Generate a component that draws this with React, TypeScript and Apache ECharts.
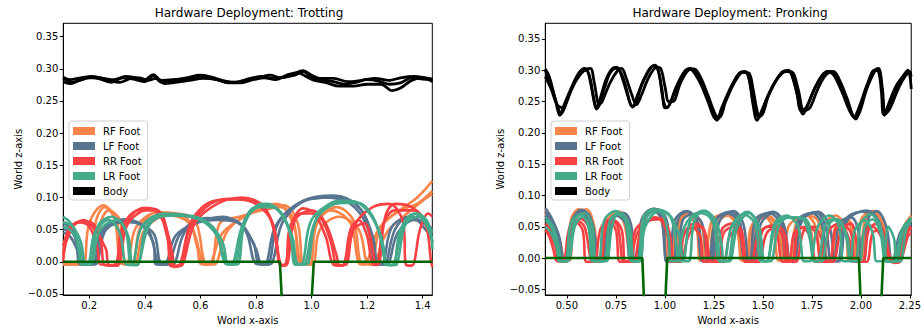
import React, { useEffect, useRef } from "react";
import * as echarts from "echarts";

const FONT = "DejaVu Sans";

const zTicks = [-0.05, 0, 0.05, 0.1, 0.15, 0.2, 0.25, 0.3, 0.35];
const trotXTicks = [0.2, 0.4, 0.6, 0.8, 1.0, 1.2, 1.4];
const pronkXTicks = [0.5, 0.75, 1.0, 1.25, 1.5, 1.75, 2.0, 2.25];
const legendNames = ["RF Foot", "LF Foot", "RR Foot", "LR Foot", "Body"];
const legendColors = ["#F9844A", "#577590", "#F94144", "#43AA8B", "#000000"];

// ---------- Trotting ----------
const trotRF_A = [[0.106,-0.003],[0.18,-0.004],[0.185,0],[0.2,0.06],[0.25,0.088],[0.29,0.07],[0.31,0],[0.33,-0.004],[0.34,0],[0.37,0.055],[0.45,0.077],[0.55,0.068],[0.59,0.02],[0.6,-0.003],[0.63,-0.004],[0.64,0],[0.68,0.045],[0.78,0.075],[0.87,0.09],[0.93,0.07],[0.96,-0.002],[0.98,-0.004],[0.99,0],[1.01,0.055],[1.07,0.08],[1.14,0.06],[1.17,-0.002],[1.19,-0.004],[1.2,0],[1.24,0.05],[1.3,0.075],[1.38,0.1],[1.435,0.126]];
const trotRF_B = [[0.106,-0.004],[0.22,-0.003],[0.225,0],[0.24,0.06],[0.27,0.08],[0.31,0.065],[0.33,-0.002],[0.36,-0.004],[0.37,0],[0.4,0.05],[0.5,0.075],[0.58,0.065],[0.62,-0.003],[0.65,-0.004],[0.66,0],[0.7,0.05],[0.8,0.08],[0.9,0.088],[0.95,0.06],[0.97,-0.003],[1.0,-0.004],[1.01,0],[1.03,0.05],[1.1,0.07],[1.17,0.05],[1.2,-0.002],[1.22,-0.004],[1.23,0],[1.27,0.045],[1.33,0.07],[1.4,0.095],[1.435,0.105]];
const trotRF_C = [[0.106,-0.004],[0.2,-0.004],[0.21,0],[0.225,0.065],[0.255,0.085],[0.3,0.06],[0.32,-0.003],[0.35,-0.004],[0.36,0],[0.39,0.06],[0.47,0.073],[0.56,0.06],[0.6,0.01],[0.61,-0.004],[0.635,-0.004],[0.645,0],[0.67,0.06],[0.74,0.07],[0.82,0.08],[0.89,0.085],[0.94,0.05],[0.955,-0.003],[0.99,-0.004],[1.0,0],[1.02,0.06],[1.09,0.085],[1.15,0.065],[1.18,-0.003],[1.21,-0.004],[1.22,0],[1.25,0.055],[1.32,0.08],[1.38,0.09],[1.435,0.11]];
const trotLF_A = [[0.106,0.045],[0.13,0.04],[0.155,0.02],[0.165,-0.003],[0.2,-0.004],[0.21,0],[0.24,0.045],[0.33,0.066],[0.41,0.05],[0.44,0.01],[0.45,-0.004],[0.48,-0.004],[0.49,0],[0.53,0.045],[0.62,0.068],[0.72,0.065],[0.79,0.03],[0.81,-0.003],[0.84,-0.004],[0.85,0],[0.88,0.06],[0.97,0.095],[1.08,0.103],[1.17,0.085],[1.22,0.04],[1.24,-0.003],[1.27,-0.004],[1.28,0],[1.31,0.045],[1.37,0.065],[1.42,0.055],[1.435,0.045]];
const trotLF_B = [[0.106,0.06],[0.14,0.05],[0.17,0.015],[0.18,-0.003],[0.22,-0.004],[0.23,0],[0.26,0.05],[0.34,0.062],[0.43,0.045],[0.46,-0.003],[0.5,-0.004],[0.51,0],[0.55,0.05],[0.66,0.065],[0.74,0.06],[0.8,0.02],[0.82,-0.004],[0.845,-0.004],[0.86,0],[0.9,0.065],[1.0,0.098],[1.1,0.1],[1.18,0.08],[1.22,0.03],[1.23,-0.003],[1.26,-0.004],[1.27,0],[1.3,0.05],[1.35,0.07],[1.41,0.06],[1.435,0.05]];
const trotLF_C = [[0.106,0.05],[0.14,0.045],[0.16,0.02],[0.17,-0.004],[0.21,-0.004],[0.22,0],[0.25,0.05],[0.31,0.065],[0.38,0.06],[0.43,0.03],[0.44,-0.004],[0.47,-0.004],[0.48,0],[0.51,0.04],[0.58,0.06],[0.68,0.07],[0.76,0.05],[0.8,-0.003],[0.83,-0.004],[0.84,0],[0.87,0.055],[0.95,0.09],[1.05,0.1],[1.14,0.09],[1.2,0.055],[1.23,-0.003],[1.25,-0.004],[1.26,0],[1.29,0.055],[1.36,0.07],[1.41,0.05],[1.435,0.035]];
const trotRR_A = [[0.106,0.0],[0.12,0.035],[0.16,0.062],[0.2,0.055],[0.23,0.02],[0.24,-0.004],[0.28,-0.005],[0.3,0],[0.33,0.06],[0.4,0.084],[0.46,0.075],[0.49,0.02],[0.5,-0.006],[0.53,-0.006],[0.54,0],[0.58,0.06],[0.66,0.09],[0.75,0.1],[0.83,0.085],[0.87,0.04],[0.885,-0.004],[0.9,-0.005],[0.91,0],[0.93,0.06],[0.97,0.083],[1.03,0.07],[1.07,0.03],[1.09,-0.005],[1.11,-0.006],[1.12,0],[1.14,0.05],[1.17,0.065],[1.2,0.04],[1.22,-0.004],[1.235,-0.005],[1.245,0],[1.265,0.07],[1.3,0.09],[1.36,0.085],[1.41,0.06],[1.43,0.0],[1.435,-0.008]];
const trotRR_B = [[0.106,0.025],[0.13,0.05],[0.18,0.065],[0.22,0.05],[0.26,0.02],[0.27,-0.005],[0.3,-0.006],[0.31,0],[0.34,0.06],[0.42,0.082],[0.47,0.06],[0.5,0.01],[0.505,-0.008],[0.52,-0.007],[0.53,0],[0.57,0.065],[0.65,0.095],[0.73,0.097],[0.8,0.09],[0.86,0.06],[0.89,-0.005],[0.905,-0.006],[0.915,0],[0.94,0.065],[1.0,0.08],[1.05,0.06],[1.09,0.01],[1.1,-0.005],[1.12,-0.005],[1.13,0],[1.15,0.05],[1.19,0.06],[1.22,0.02],[1.23,-0.004],[1.24,0],[1.26,0.06],[1.3,0.08],[1.37,0.08],[1.42,0.05],[1.435,0.03]];
const trotRR_C = [[0.106,0.01],[0.12,0.045],[0.15,0.06],[0.2,0.062],[0.24,0.035],[0.255,-0.005],[0.29,-0.006],[0.3,0],[0.32,0.055],[0.38,0.08],[0.44,0.08],[0.48,0.04],[0.495,-0.007],[0.52,-0.007],[0.535,0],[0.56,0.05],[0.62,0.085],[0.7,0.098],[0.78,0.095],[0.85,0.07],[0.88,0.01],[0.89,-0.005],[0.9,-0.005],[0.91,0],[0.92,0.05],[0.96,0.075],[1.0,0.075],[1.05,0.04],[1.08,-0.005],[1.11,-0.006],[1.12,0],[1.16,0.06],[1.22,0.085],[1.28,0.09],[1.33,0.06],[1.34,-0.005],[1.36,-0.006],[1.37,0],[1.39,0.05],[1.42,0.075],[1.435,0.07]];
const trotLR_A = [[0.106,0.07],[0.13,0.062],[0.15,0.045],[0.165,0.01],[0.17,-0.003],[0.19,-0.004],[0.2,0],[0.22,0.045],[0.27,0.065],[0.31,0.045],[0.33,-0.003],[0.35,-0.005],[0.36,0],[0.39,0.055],[0.47,0.075],[0.57,0.07],[0.65,0.05],[0.7,-0.003],[0.73,-0.004],[0.74,0],[0.76,0.06],[0.82,0.09],[0.88,0.08],[0.93,0.04],[0.95,-0.003],[0.98,-0.004],[0.99,0],[1.02,0.07],[1.1,0.095],[1.18,0.09],[1.24,0.05],[1.27,-0.004],[1.29,-0.005],[1.3,0],[1.33,0.055],[1.38,0.075],[1.42,0.06],[1.435,0.02]];
const trotLR_B = [[0.106,0.062],[0.14,0.055],[0.17,0.03],[0.185,-0.003],[0.2,-0.004],[0.21,0],[0.24,0.05],[0.3,0.065],[0.34,0.04],[0.355,-0.005],[0.37,-0.005],[0.38,0],[0.42,0.06],[0.5,0.072],[0.6,0.065],[0.66,0.04],[0.69,-0.003],[0.71,-0.004],[0.72,0],[0.75,0.055],[0.8,0.085],[0.86,0.085],[0.92,0.05],[0.94,-0.004],[0.96,-0.004],[0.97,0],[1.0,0.065],[1.08,0.09],[1.16,0.092],[1.22,0.07],[1.26,0.02],[1.27,-0.005],[1.3,-0.005],[1.31,0],[1.34,0.06],[1.39,0.07],[1.43,0.04],[1.435,0.03]];
const trotLR_C = [[0.106,0.055],[0.13,0.05],[0.155,0.035],[0.17,0.01],[0.175,-0.004],[0.2,-0.004],[0.21,0],[0.23,0.055],[0.28,0.07],[0.33,0.05],[0.35,-0.004],[0.37,-0.005],[0.38,0],[0.41,0.06],[0.48,0.072],[0.55,0.072],[0.63,0.06],[0.68,0.03],[0.7,-0.004],[0.72,-0.004],[0.73,0],[0.76,0.065],[0.84,0.09],[0.9,0.07],[0.935,0.02],[0.94,-0.004],[0.97,-0.004],[0.98,0],[1.01,0.06],[1.06,0.085],[1.14,0.095],[1.2,0.08],[1.25,0.04],[1.27,-0.004],[1.29,-0.005],[1.3,0],[1.32,0.05],[1.37,0.075],[1.41,0.06],[1.435,0.045]];
const trotBody1 = [[0.106,0.285],[0.14,0.279],[0.17,0.283],[0.2,0.287],[0.24,0.284],[0.28,0.279],[0.32,0.286],[0.36,0.284],[0.4,0.28],[0.43,0.289],[0.46,0.279],[0.5,0.281],[0.55,0.283],[0.6,0.288],[0.65,0.284],[0.7,0.279],[0.74,0.28],[0.78,0.285],[0.82,0.288],[0.86,0.285],[0.9,0.287],[0.94,0.29],[0.97,0.296],[1.0,0.286],[1.04,0.283],[1.08,0.28],[1.12,0.276],[1.16,0.279],[1.2,0.283],[1.24,0.281],[1.28,0.276],[1.32,0.278],[1.36,0.286],[1.4,0.284],[1.435,0.283]];
const trotBody2 = [[0.106,0.28],[0.13,0.277],[0.16,0.281],[0.2,0.286],[0.24,0.286],[0.28,0.281],[0.31,0.279],[0.35,0.285],[0.38,0.286],[0.41,0.282],[0.44,0.285],[0.47,0.277],[0.51,0.279],[0.56,0.282],[0.61,0.285],[0.66,0.283],[0.7,0.278],[0.74,0.278],[0.79,0.283],[0.83,0.286],[0.87,0.283],[0.91,0.29],[0.95,0.294],[0.98,0.288],[1.01,0.282],[1.05,0.279],[1.1,0.273],[1.15,0.273],[1.2,0.276],[1.25,0.276],[1.29,0.266],[1.32,0.27],[1.36,0.282],[1.4,0.286],[1.435,0.28]];
const trotBody3 = [[0.106,0.287],[0.13,0.283],[0.17,0.286],[0.21,0.288],[0.25,0.285],[0.29,0.283],[0.33,0.288],[0.37,0.286],[0.4,0.283],[0.43,0.291],[0.46,0.282],[0.5,0.283],[0.55,0.286],[0.6,0.29],[0.64,0.287],[0.69,0.281],[0.73,0.279],[0.77,0.283],[0.81,0.286],[0.85,0.29],[0.89,0.286],[0.93,0.291],[0.97,0.297],[1.0,0.29],[1.03,0.285],[1.08,0.285],[1.13,0.28],[1.18,0.282],[1.23,0.285],[1.28,0.282],[1.32,0.286],[1.37,0.288],[1.41,0.286],[1.435,0.284]];
const trotGround = [[0.106,0],[0.886,0],[0.898,-0.1],[0.995,-0.1],[1.008,0],[1.435,0]];

// ---------- Pronking ----------
const pronkRF_A = [[0.39,0.07],[0.42,0.06],[0.46,0.03],[0.48,-0.003],[0.5,-0.004],[0.51,0],[0.53,0.06],[0.58,0.077],[0.62,0.06],[0.645,0.01],[0.65,-0.004],[0.67,-0.004],[0.68,0],[0.7,0.055],[0.76,0.072],[0.81,0.055],[0.835,0.005],[0.84,-0.004],[0.86,-0.004],[0.87,0],[0.89,0.06],[0.95,0.078],[0.99,0.06],[1.01,0.0],[1.03,-0.004],[1.04,0],[1.06,0.055],[1.11,0.072],[1.16,0.05],[1.18,-0.004],[1.2,-0.004],[1.21,0],[1.24,0.06],[1.3,0.07],[1.36,0.06],[1.4,0.01],[1.41,-0.004],[1.43,-0.004],[1.44,0],[1.46,0.05],[1.5,0.065],[1.55,0.06],[1.6,0.015],[1.62,-0.004],[1.64,-0.004],[1.65,0],[1.68,0.055],[1.73,0.068],[1.78,0.06],[1.82,0.01],[1.83,-0.004],[1.85,-0.004],[1.86,0],[1.88,0.05],[1.92,0.06],[1.96,0.04],[1.98,-0.004],[2.0,-0.004],[2.01,0],[2.03,0.06],[2.07,0.073],[2.12,0.05],[2.155,-0.004],[2.17,-0.004],[2.18,0],[2.21,0.045],[2.257,0.062]];
const pronkRF_B = [[0.39,0.075],[0.43,0.055],[0.47,0.02],[0.485,-0.003],[0.51,-0.004],[0.52,0],[0.54,0.065],[0.6,0.078],[0.64,0.05],[0.66,-0.004],[0.68,-0.004],[0.69,0],[0.71,0.06],[0.77,0.074],[0.82,0.05],[0.84,-0.004],[0.85,-0.004],[0.86,0],[0.88,0.06],[0.93,0.077],[0.98,0.065],[1.0,0.02],[1.01,-0.004],[1.05,-0.004],[1.06,0],[1.08,0.06],[1.14,0.07],[1.19,0.05],[1.21,-0.004],[1.24,-0.004],[1.25,0],[1.27,0.055],[1.32,0.068],[1.37,0.05],[1.39,-0.004],[1.41,-0.004],[1.42,0],[1.44,0.05],[1.5,0.068],[1.55,0.05],[1.58,-0.004],[1.6,-0.004],[1.61,0],[1.63,0.05],[1.69,0.064],[1.74,0.05],[1.77,-0.004],[1.79,-0.004],[1.8,0],[1.82,0.055],[1.87,0.068],[1.92,0.05],[1.94,-0.004],[1.97,-0.004],[1.98,0],[2.0,0.06],[2.05,0.074],[2.1,0.06],[2.14,0.01],[2.15,-0.004],[2.17,-0.004],[2.19,0],[2.22,0.05],[2.257,0.065]];
const pronkRF_C = [[0.39,0.078],[0.41,0.07],[0.45,0.04],[0.475,-0.004],[0.5,-0.004],[0.505,0],[0.52,0.06],[0.56,0.078],[0.6,0.07],[0.635,0.02],[0.64,-0.004],[0.66,-0.004],[0.67,0],[0.69,0.05],[0.74,0.07],[0.79,0.058],[0.83,-0.004],[0.855,-0.004],[0.865,0],[0.88,0.055],[0.92,0.075],[0.97,0.07],[1.0,0.03],[1.01,-0.004],[1.04,-0.004],[1.05,0],[1.07,0.06],[1.12,0.07],[1.17,0.04],[1.19,-0.004],[1.22,-0.004],[1.23,0],[1.25,0.055],[1.31,0.07],[1.36,0.055],[1.4,-0.004],[1.42,-0.004],[1.43,0],[1.45,0.05],[1.52,0.068],[1.58,0.05],[1.61,-0.004],[1.63,-0.004],[1.64,0],[1.67,0.055],[1.72,0.068],[1.77,0.05],[1.8,-0.004],[1.84,-0.004],[1.85,0],[1.87,0.05],[1.93,0.062],[1.97,0.03],[1.98,-0.004],[1.99,-0.004],[2.0,0],[2.02,0.06],[2.06,0.075],[2.11,0.055],[2.15,-0.004],[2.18,-0.004],[2.19,0],[2.22,0.05],[2.257,0.068]];
const pronkLF_A = [[0.39,0.08],[0.42,0.065],[0.46,0.035],[0.48,0.0],[0.49,-0.004],[0.5,-0.004],[0.51,0],[0.53,0.06],[0.575,0.077],[0.62,0.065],[0.65,0.02],[0.66,-0.004],[0.68,-0.004],[0.69,0],[0.71,0.055],[0.76,0.07],[0.8,0.06],[0.83,0.01],[0.84,-0.005],[0.86,-0.005],[0.87,0],[0.89,0.065],[0.945,0.079],[0.99,0.065],[1.0,0.01],[1.005,-0.005],[1.02,-0.005],[1.03,0],[1.05,0.06],[1.11,0.075],[1.16,0.06],[1.18,0.01],[1.19,-0.005],[1.24,-0.005],[1.25,0],[1.28,0.06],[1.35,0.075],[1.4,0.055],[1.43,-0.005],[1.45,-0.005],[1.46,0],[1.49,0.055],[1.56,0.073],[1.61,0.05],[1.64,-0.005],[1.66,-0.005],[1.67,0],[1.7,0.06],[1.78,0.074],[1.84,0.05],[1.87,-0.005],[1.89,-0.005],[1.9,0],[1.93,0.06],[2.03,0.076],[2.09,0.06],[2.13,0.02],[2.15,-0.006],[2.17,-0.006],[2.18,0],[2.21,0.04],[2.257,0.055]];
const pronkLF_B = [[0.39,0.068],[0.43,0.055],[0.46,0.025],[0.475,-0.004],[0.5,-0.004],[0.51,0],[0.53,0.055],[0.58,0.072],[0.63,0.055],[0.655,-0.004],[0.7,-0.004],[0.71,0],[0.73,0.06],[0.79,0.072],[0.83,0.05],[0.845,-0.005],[0.87,-0.005],[0.88,0],[0.9,0.065],[0.96,0.078],[1.01,0.06],[1.03,-0.005],[1.06,-0.005],[1.07,0],[1.09,0.06],[1.14,0.07],[1.19,0.055],[1.22,-0.005],[1.23,-0.005],[1.24,0],[1.26,0.06],[1.31,0.072],[1.37,0.06],[1.41,-0.005],[1.43,-0.005],[1.44,0],[1.46,0.06],[1.53,0.072],[1.59,0.055],[1.62,-0.005],[1.65,-0.005],[1.66,0],[1.68,0.06],[1.75,0.072],[1.8,0.055],[1.83,-0.005],[1.86,-0.005],[1.87,0],[1.89,0.055],[1.95,0.065],[1.99,0.04],[2.0,-0.005],[2.01,-0.005],[2.02,0],[2.04,0.065],[2.08,0.075],[2.13,0.05],[2.16,-0.006],[2.18,-0.006],[2.19,0],[2.22,0.05],[2.257,0.06]];
const pronkLF_C = [[0.39,0.074],[0.42,0.06],[0.455,0.03],[0.47,-0.004],[0.495,-0.005],[0.505,0],[0.52,0.055],[0.57,0.075],[0.61,0.06],[0.64,0.01],[0.645,-0.005],[0.675,-0.005],[0.685,0],[0.7,0.05],[0.75,0.068],[0.8,0.055],[0.825,-0.005],[0.855,-0.005],[0.865,0],[0.88,0.06],[0.93,0.077],[0.98,0.065],[1.0,0.01],[1.01,-0.005],[1.04,-0.005],[1.05,0],[1.07,0.065],[1.12,0.074],[1.17,0.055],[1.2,-0.005],[1.22,-0.005],[1.23,0],[1.26,0.06],[1.33,0.074],[1.38,0.06],[1.42,-0.005],[1.44,-0.005],[1.45,0],[1.48,0.06],[1.55,0.074],[1.6,0.055],[1.63,-0.005],[1.65,-0.005],[1.66,0],[1.69,0.06],[1.77,0.073],[1.82,0.05],[1.85,-0.005],[1.88,-0.005],[1.89,0],[1.92,0.06],[2.0,0.074],[2.06,0.07],[2.11,0.04],[2.14,-0.006],[2.16,-0.006],[2.17,0],[2.2,0.04],[2.257,0.06]];
const pronkRR_A = [[0.39,0.05],[0.41,0.04],[0.44,0.02],[0.46,-0.004],[0.49,-0.005],[0.5,0],[0.52,0.045],[0.55,0.06],[0.59,0.05],[0.62,0.0],[0.63,-0.006],[0.66,-0.006],[0.67,0],[0.69,0.05],[0.72,0.062],[0.76,0.05],[0.79,-0.006],[0.82,-0.006],[0.83,0],[0.86,0.04],[0.92,0.06],[0.98,0.063],[1.02,0.045],[1.05,-0.006],[1.08,-0.006],[1.09,0],[1.12,0.035],[1.16,0.05],[1.2,0.045],[1.24,-0.006],[1.27,-0.006],[1.28,0],[1.3,0.04],[1.35,0.05],[1.39,0.03],[1.41,-0.006],[1.44,-0.006],[1.45,0],[1.48,0.04],[1.53,0.05],[1.57,0.04],[1.6,-0.006],[1.63,-0.006],[1.64,0],[1.66,0.04],[1.7,0.048],[1.74,0.035],[1.77,-0.006],[1.8,-0.006],[1.81,0],[1.84,0.045],[1.89,0.055],[1.94,0.03],[1.96,-0.006],[1.99,-0.006],[2.0,0],[2.02,0.045],[2.06,0.05],[2.11,0.03],[2.15,-0.006],[2.19,-0.007],[2.2,0],[2.23,0.035],[2.257,0.048]];
const pronkRR_B = [[0.39,0.055],[0.42,0.045],[0.45,0.02],[0.47,-0.004],[0.5,-0.005],[0.51,0],[0.53,0.05],[0.57,0.063],[0.61,0.05],[0.64,-0.006],[0.67,-0.006],[0.68,0],[0.7,0.05],[0.74,0.06],[0.78,0.045],[0.8,-0.006],[0.84,-0.006],[0.85,0],[0.88,0.045],[0.95,0.065],[1.0,0.055],[1.03,0.02],[1.04,-0.006],[1.07,-0.006],[1.08,0],[1.1,0.04],[1.15,0.055],[1.2,0.045],[1.22,-0.006],[1.25,-0.006],[1.26,0],[1.29,0.045],[1.34,0.055],[1.39,0.045],[1.42,-0.006],[1.46,-0.006],[1.47,0],[1.5,0.045],[1.55,0.052],[1.6,0.035],[1.62,-0.006],[1.65,-0.006],[1.66,0],[1.68,0.045],[1.73,0.05],[1.77,0.04],[1.8,-0.006],[1.84,-0.006],[1.85,0],[1.87,0.045],[1.91,0.052],[1.95,0.04],[1.97,-0.006],[2.01,-0.006],[2.02,0],[2.04,0.045],[2.08,0.055],[2.12,0.04],[2.16,-0.006],[2.19,-0.006],[2.2,0],[2.22,0.04],[2.257,0.05]];
const pronkRR_C = [[0.39,0.045],[0.41,0.035],[0.43,0.015],[0.45,-0.005],[0.48,-0.006],[0.49,0],[0.51,0.045],[0.54,0.058],[0.58,0.045],[0.6,-0.006],[0.64,-0.006],[0.65,0],[0.67,0.045],[0.71,0.06],[0.75,0.045],[0.77,-0.006],[0.81,-0.006],[0.82,0],[0.85,0.045],[0.9,0.058],[0.97,0.062],[1.01,0.04],[1.03,-0.006],[1.06,-0.006],[1.07,0],[1.1,0.04],[1.14,0.048],[1.18,0.035],[1.2,-0.006],[1.3,-0.006],[1.31,0],[1.33,0.035],[1.37,0.045],[1.4,0.02],[1.41,-0.006],[1.48,-0.006],[1.49,0],[1.52,0.04],[1.58,0.05],[1.62,0.03],[1.63,-0.006],[1.67,-0.006],[1.68,0],[1.71,0.045],[1.76,0.05],[1.8,0.03],[1.82,-0.006],[1.86,-0.006],[1.87,0],[1.9,0.045],[1.95,0.055],[1.98,0.02],[1.99,-0.006],[2.03,-0.006],[2.04,0],[2.06,0.04],[2.1,0.045],[2.14,0.01],[2.17,-0.008],[2.2,-0.006],[2.21,0],[2.24,0.035],[2.257,0.04]];
const pronkLR_A = [[0.39,0.06],[0.42,0.05],[0.45,0.02],[0.47,-0.005],[0.49,-0.005],[0.5,0],[0.52,0.055],[0.57,0.07],[0.61,0.05],[0.63,-0.005],[0.66,-0.005],[0.67,0],[0.69,0.06],[0.75,0.075],[0.8,0.06],[0.83,0.01],[0.84,-0.005],[0.87,-0.005],[0.88,0],[0.9,0.06],[0.96,0.077],[1.02,0.07],[1.07,0.04],[1.1,-0.005],[1.12,-0.005],[1.13,0],[1.15,0.06],[1.2,0.075],[1.26,0.06],[1.29,0.02],[1.3,-0.005],[1.32,-0.005],[1.33,0],[1.36,0.055],[1.42,0.074],[1.48,0.05],[1.51,-0.005],[1.54,-0.005],[1.55,0],[1.58,0.05],[1.63,0.065],[1.7,0.063],[1.74,0.03],[1.76,-0.005],[1.78,-0.005],[1.79,0],[1.82,0.055],[1.87,0.062],[1.92,0.04],[1.95,-0.005],[1.97,-0.005],[1.98,0],[2.0,0.055],[2.05,0.07],[2.1,0.05],[2.14,-0.006],[2.17,-0.006],[2.18,0],[2.21,0.045],[2.257,0.065]];
const pronkLR_B = [[0.39,0.065],[0.43,0.05],[0.46,0.015],[0.475,-0.005],[0.5,-0.005],[0.51,0],[0.54,0.06],[0.59,0.072],[0.63,0.05],[0.65,-0.005],[0.69,-0.005],[0.7,0],[0.72,0.06],[0.77,0.072],[0.82,0.05],[0.84,-0.005],[0.86,-0.005],[0.87,0],[0.89,0.065],[0.94,0.078],[0.99,0.07],[1.02,0.03],[1.03,-0.005],[1.06,-0.005],[1.07,0],[1.1,0.05],[1.17,0.072],[1.23,0.065],[1.27,0.03],[1.28,-0.005],[1.3,-0.005],[1.31,0],[1.34,0.05],[1.4,0.07],[1.46,0.055],[1.49,-0.005],[1.52,-0.005],[1.53,0],[1.56,0.055],[1.62,0.068],[1.68,0.05],[1.71,-0.005],[1.74,-0.005],[1.75,0],[1.78,0.05],[1.84,0.068],[1.89,0.05],[1.91,-0.005],[1.94,-0.005],[1.95,0],[1.97,0.045],[2.02,0.06],[2.06,0.04],[2.08,-0.005],[2.11,-0.005],[2.12,0],[2.14,0.05],[2.17,0.03],[2.18,-0.005],[2.2,-0.005],[2.21,0],[2.23,0.045],[2.257,0.06]];
const pronkLR_C = [[0.39,0.05],[0.42,0.04],[0.45,0.015],[0.46,-0.005],[0.5,-0.005],[0.515,0],[0.54,0.05],[0.58,0.066],[0.62,0.045],[0.64,-0.005],[0.7,-0.005],[0.71,0],[0.73,0.05],[0.76,0.07],[0.8,0.06],[0.83,-0.005],[0.86,-0.005],[0.875,0],[0.9,0.05],[0.97,0.075],[1.03,0.065],[1.06,0.02],[1.07,-0.005],[1.09,-0.005],[1.1,0],[1.13,0.06],[1.2,0.076],[1.25,0.06],[1.28,-0.005],[1.33,-0.005],[1.34,0],[1.37,0.05],[1.43,0.072],[1.48,0.05],[1.5,-0.005],[1.52,-0.005],[1.53,0],[1.57,0.055],[1.64,0.065],[1.72,0.062],[1.75,0.02],[1.76,-0.005],[1.8,-0.005],[1.81,0],[1.84,0.055],[1.88,0.062],[1.93,0.035],[1.95,-0.005],[1.99,-0.005],[2.0,0],[2.02,0.05],[2.06,0.062],[2.1,0.04],[2.13,-0.006],[2.18,-0.006],[2.19,0],[2.22,0.05],[2.257,0.062]];
const pronkBody1 = [[0.39,0.302],[0.41,0.29],[0.44,0.255],[0.465,0.228],[0.48,0.24],[0.52,0.27],[0.56,0.295],[0.59,0.303],[0.61,0.295],[0.63,0.265],[0.652,0.238],[0.67,0.255],[0.7,0.285],[0.73,0.302],[0.755,0.305],[0.78,0.29],[0.81,0.26],[0.835,0.241],[0.86,0.26],[0.9,0.29],[0.94,0.307],[0.96,0.305],[0.985,0.27],[1.0,0.24],[1.02,0.243],[1.06,0.275],[1.1,0.298],[1.13,0.303],[1.16,0.295],[1.2,0.27],[1.24,0.237],[1.265,0.22],[1.29,0.24],[1.34,0.275],[1.38,0.295],[1.41,0.298],[1.43,0.285],[1.45,0.245],[1.47,0.22],[1.5,0.24],[1.55,0.275],[1.6,0.296],[1.63,0.3],[1.65,0.29],[1.68,0.255],[1.705,0.23],[1.73,0.245],[1.77,0.275],[1.81,0.295],[1.84,0.298],[1.87,0.29],[1.91,0.265],[1.95,0.233],[1.975,0.222],[2.0,0.245],[2.04,0.282],[2.08,0.302],[2.095,0.3],[2.11,0.26],[2.12,0.228],[2.14,0.245],[2.18,0.275],[2.22,0.292],[2.245,0.298],[2.257,0.29]];
const pronkBody2 = [[0.39,0.29],[0.42,0.27],[0.45,0.245],[0.48,0.24],[0.51,0.26],[0.55,0.285],[0.59,0.3],[0.62,0.303],[0.64,0.28],[0.665,0.245],[0.68,0.25],[0.72,0.28],[0.76,0.3],[0.78,0.303],[0.8,0.29],[0.83,0.262],[0.855,0.245],[0.88,0.26],[0.92,0.29],[0.96,0.305],[0.98,0.302],[1.0,0.275],[1.02,0.25],[1.04,0.25],[1.08,0.28],[1.12,0.3],[1.15,0.302],[1.18,0.29],[1.22,0.26],[1.26,0.228],[1.28,0.225],[1.31,0.25],[1.36,0.283],[1.4,0.297],[1.43,0.295],[1.45,0.27],[1.475,0.23],[1.49,0.228],[1.53,0.26],[1.58,0.29],[1.62,0.298],[1.65,0.297],[1.68,0.27],[1.71,0.235],[1.74,0.24],[1.78,0.27],[1.82,0.292],[1.86,0.298],[1.89,0.285],[1.93,0.255],[1.97,0.225],[1.99,0.23],[2.03,0.27],[2.07,0.298],[2.09,0.303],[2.11,0.27],[2.125,0.23],[2.15,0.24],[2.19,0.27],[2.23,0.292],[2.257,0.298]];
const pronkBody3 = [[0.39,0.3],[0.42,0.275],[0.45,0.245],[0.47,0.23],[0.5,0.25],[0.54,0.282],[0.58,0.3],[0.6,0.3],[0.62,0.285],[0.64,0.25],[0.655,0.24],[0.69,0.27],[0.72,0.295],[0.75,0.303],[0.77,0.3],[0.8,0.275],[0.825,0.245],[0.84,0.243],[0.88,0.275],[0.92,0.3],[0.95,0.308],[0.97,0.295],[0.99,0.255],[1.01,0.24],[1.05,0.265],[1.09,0.292],[1.12,0.302],[1.14,0.3],[1.18,0.28],[1.22,0.25],[1.25,0.225],[1.27,0.222],[1.3,0.245],[1.35,0.28],[1.39,0.297],[1.42,0.295],[1.44,0.27],[1.46,0.235],[1.48,0.225],[1.52,0.255],[1.57,0.285],[1.61,0.299],[1.64,0.297],[1.67,0.27],[1.695,0.235],[1.72,0.24],[1.76,0.268],[1.8,0.29],[1.83,0.298],[1.86,0.293],[1.9,0.268],[1.94,0.237],[1.965,0.225],[1.99,0.24],[2.03,0.275],[2.07,0.3],[2.09,0.298],[2.105,0.265],[2.115,0.23],[2.13,0.235],[2.17,0.265],[2.21,0.288],[2.24,0.3],[2.257,0.27]];
const pronkGround = [[0.39,0],[0.885,0],[0.898,-0.1],[0.998,-0.1],[1.012,0],[1.99,0],[2.003,-0.1],[2.1,-0.1],[2.114,0],[2.257,0]];

const fmtZ = (v: number) => (v < 0 ? "\u2212" : "") + Math.abs(v).toFixed(2);

function makeAxes(gi: number, xmin: number, xmax: number, xTicks: number[], xDec: number, ymin: number, ymax: number) {
  const labelStyle = { fontFamily: FONT, fontSize: 10, color: "#000" };
  const xAxis = {
    type: "value", gridIndex: gi, min: xmin, max: xmax,
    name: "World x-axis", nameLocation: "middle", nameGap: 20,
    nameTextStyle: { fontFamily: FONT, fontSize: 10, color: "#000" },
    axisLine: { show: true, onZero: false, lineStyle: { color: "#000", width: 1 } },
    axisTick: { show: true, length: 3.5, lineStyle: { color: "#000" }, customValues: xTicks },
    axisLabel: { ...labelStyle, margin: 5, customValues: xTicks, formatter: (v: number) => v.toFixed(xDec) },
    splitLine: { show: false },
  };
  const yAxis = {
    type: "value", gridIndex: gi, min: ymin, max: ymax,
    name: "World z-axis", nameLocation: "middle", nameGap: 40, nameRotate: 90,
    nameTextStyle: { fontFamily: FONT, fontSize: 10, color: "#000" },
    axisLine: { show: true, onZero: false, lineStyle: { color: "#000", width: 1 } },
    axisTick: { show: true, length: 3.5, lineStyle: { color: "#000" }, customValues: zTicks },
    axisLabel: { ...labelStyle, margin: 5, customValues: zTicks, formatter: fmtZ },
    splitLine: { show: false },
  };
  return { xAxis, yAxis };
}

function line(name: string, data: number[][], color: string, gi: number, width: number, smooth: number | boolean) {
  return {
    type: "line", name, data, xAxisIndex: gi, yAxisIndex: gi, color,
    showSymbol: false, symbol: "none", smooth, clip: true,
    lineStyle: { color, width }, silent: true,
  };
}

export default function App() {
  const ref = useRef<HTMLDivElement>(null);
  useEffect(() => {
    if (!ref.current) return;
    const chart = echarts.init(ref.current, undefined, { renderer: "svg" });
    const a0 = makeAxes(0, 0.1065, 1.4345, trotXTicks, 1, -0.0516, 0.3707);
    const a1 = makeAxes(1, 0.39, 2.257, pronkXTicks, 2, -0.059, 0.375);
    const [cRF, cLF, cRR, cLR, cB] = legendColors;
    const fw = 2.6;
    const bw = 2.8;
    const sm = 0.35;
    const series = [
      line("RF Foot", trotRF_A, cRF, 0, fw, sm), line("RF Foot", trotRF_B, cRF, 0, fw, sm), line("RF Foot", trotRF_C, cRF, 0, fw, sm),
      line("LF Foot", trotLF_A, cLF, 0, fw, sm), line("LF Foot", trotLF_B, cLF, 0, fw, sm), line("LF Foot", trotLF_C, cLF, 0, fw, sm),
      line("RR Foot", trotRR_A, cRR, 0, fw, sm), line("RR Foot", trotRR_B, cRR, 0, fw, sm), line("RR Foot", trotRR_C, cRR, 0, fw, sm),
      line("LR Foot", trotLR_A, cLR, 0, fw, sm), line("LR Foot", trotLR_B, cLR, 0, fw, sm), line("LR Foot", trotLR_C, cLR, 0, fw, sm),
      line("Body", trotBody1, cB, 0, bw, sm), line("Body", trotBody2, cB, 0, bw, sm), line("Body", trotBody3, cB, 0, bw, sm),
      line("Ground", trotGround, "#006400", 0, 2.6, false),
      line("RF Foot", pronkRF_A, cRF, 1, fw, sm), line("RF Foot", pronkRF_B, cRF, 1, fw, sm), line("RF Foot", pronkRF_C, cRF, 1, fw, sm),
      line("LF Foot", pronkLF_A, cLF, 1, fw, sm), line("LF Foot", pronkLF_B, cLF, 1, fw, sm), line("LF Foot", pronkLF_C, cLF, 1, fw, sm),
      line("RR Foot", pronkRR_A, cRR, 1, fw, sm), line("RR Foot", pronkRR_B, cRR, 1, fw, sm), line("RR Foot", pronkRR_C, cRR, 1, fw, sm),
      line("LR Foot", pronkLR_A, cLR, 1, fw, sm), line("LR Foot", pronkLR_B, cLR, 1, fw, sm), line("LR Foot", pronkLR_C, cLR, 1, fw, sm),
      line("Body", pronkBody1, cB, 1, bw, sm), line("Body", pronkBody2, cB, 1, bw, sm), line("Body", pronkBody3, cB, 1, bw, sm),
      line("Ground", pronkGround, "#006400", 1, 2.6, false),
    ];
    const legendBase = {
      orient: "vertical", top: 121, icon: "rect", itemWidth: 22, itemHeight: 8, itemGap: 5,
      data: legendNames, selectedMode: false,
      padding: [5, 6, 4, 4], borderColor: "#d0d0d0", borderWidth: 1, borderRadius: 3,
      backgroundColor: "rgba(255,255,255,0.8)",
      textStyle: { fontFamily: FONT, fontSize: 10, color: "#000", padding: [0, 0, 0, 3] },
    };
    chart.setOption({
      animation: false,
      backgroundColor: "#fff",
      textStyle: { fontFamily: FONT },
      grid: [
        { left: 63.3, top: 23.3, width: 369, height: 274.4, show: true, borderColor: "#000", borderWidth: 1, backgroundColor: "transparent", containLabel: false },
        { left: 545.3, top: 23.3, width: 369, height: 274.4, show: true, borderColor: "#000", borderWidth: 1, backgroundColor: "transparent", containLabel: false },
      ],
      xAxis: [a0.xAxis, a1.xAxis],
      yAxis: [a0.yAxis, a1.yAxis],
      legend: [
        { ...legendBase, left: 69 },
        { ...legendBase, left: 551 },
      ],
      graphic: [
        { type: "text", x: 249, y: 13, style: { text: "Hardware Deployment: Trotting", fontFamily: FONT, fontSize: 12, fill: "#000", align: "center", verticalAlign: "middle", textAlign: "center", textVerticalAlign: "middle" } },
        { type: "text", x: 730, y: 13, style: { text: "Hardware Deployment: Pronking", fontFamily: FONT, fontSize: 12, fill: "#000", align: "center", verticalAlign: "middle", textAlign: "center", textVerticalAlign: "middle" } },
      ],
      series,
    });
    return () => chart.dispose();
  }, []);
  return <div ref={ref} style={{ position: "fixed", left: 0, top: 0, width: 924, height: 330 }} />;
}
